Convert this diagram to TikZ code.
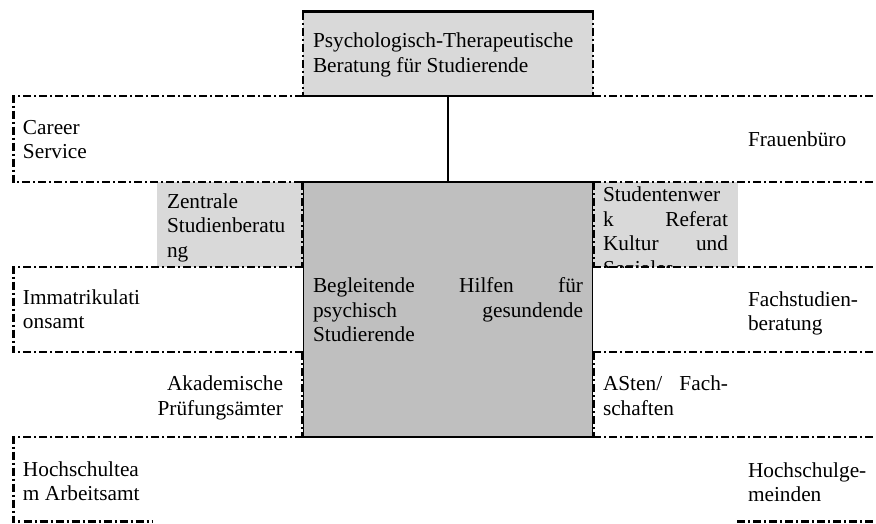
\documentclass[tikz,border=0pt]{standalone}
\usepackage{fontspec}
\setmainfont{Liberation Serif}
\definecolor{boxlight}{HTML}{D9D9D9}
\definecolor{boxdark}{HTML}{BFBFBF}
\tikzset{
  dashdot line/.style={line width=2.4pt, dash pattern=on 8pt off 3pt on 2pt off 3pt},
  solid edge/.style={line width=2.5pt},
  thin edge/.style={line width=1.5pt},
  lbl/.style={inner sep=0pt, outer sep=0pt, anchor=base west, font=\fontsize{21.3}{24.5}\selectfont, text=black},
  fillbox/.style={inner sep=0pt, outer sep=0pt, anchor=north west, draw=none},
}
\begin{document}
\begin{tikzpicture}[x=1pt,y=-1pt]
\clip (0,0) rectangle (876,523);
\fill[white] (0,0) rectangle (876,523);
% filled boxes
\node[fillbox, fill=boxlight, minimum width=290pt, minimum height=84.5pt] (psybox) at (303,11.5) {};
\node[fillbox, fill=boxlight, minimum width=146pt, minimum height=85pt] (zsbox) at (157,182) {};
\node[fillbox, fill=boxlight, minimum width=145pt, minimum height=85pt] (swbox) at (593,182) {};
\node[fillbox, fill=boxdark, minimum width=290pt, minimum height=255pt] (centerbox) at (303,182) {};
% texts
\node[lbl] (psytext) at (313,47.7) {\vtop{\hbox{Psychologisch-Therapeutische}\hbox{Beratung für Studierende}}};
\node[lbl] (career) at (23,134) {\vtop{\hbox{Career}\hbox{Service}}};
\node[lbl] (frauen) at (748,146) {Frauenbüro};
\node[lbl] (zentrale) at (167,208) {\vtop{\hbox{Zentrale}\hbox{Studienberatu}\hbox{ng}}};
\begin{scope}
  \clip (593,182) rectangle (738,267);
  \node[lbl] (studwerk) at (603,201.7) {\vtop{\hbox to 125pt{Studentenwer\hfill}\hbox to 125pt{k\hfill Referat}\hbox to 125pt{Kultur\hfill und}\hbox{Soziales}}};
\end{scope}
\node[lbl] (begleit) at (313,292.7) {\vtop{\hbox to 270pt{Begleitende\hfill Hilfen\hfill für}\hbox to 270pt{psychisch\hfill gesundende}\hbox{Studierende}}};
\node[lbl] (immat) at (23,304) {\vtop{\hbox{Immatrikulati}\hbox{onsamt}}};
\node[lbl] (fach) at (748,306) {\vtop{\hbox{Fachstudien-}\hbox{beratung}}};
\node[lbl, anchor=base east] (akad) at (283,390.7) {\vtop{\hbox to 130pt{\hfill Akademische}\hbox to 130pt{\hfill Prüfungsämter}}};
\node[lbl] (asten) at (603,390.7) {\vtop{\hbox to 125pt{ASten/\hfill Fach-}\hbox{schaften}}};
\node[lbl] (hteam) at (23,476) {\vtop{\hbox{Hochschultea}\hbox{m Arbeitsamt}}};
\node[lbl] (hgem) at (748,477) {\vtop{\hbox{Hochschulge-}\hbox{meinden}}};
% top box edges
\draw[solid edge] ([xshift=-1pt]psybox.north west) -- ([xshift=1pt]psybox.north east);
\draw[solid edge] ([xshift=-1pt]psybox.south west) -- ([xshift=1pt]psybox.south east);
\draw[dashdot line] (psybox.north west) -- (psybox.south west);
\draw[dashdot line] (psybox.north east) -- (psybox.south east);
% connector
\draw[line width=2.2pt] (psybox.south) -- (centerbox.north);
% row outlines (left parts)
\draw[dashdot line] (303,96) -- (13.5,96) -- (13.5,182) -- (303,182);
\draw[dashdot line] (302,182) -- (302,267);
\draw[dashdot line] (303,267) -- (13.5,267) -- (13.5,352) -- (303,352);
\draw[dashdot line] (302,352) -- (302,437);
\draw[dashdot line] (303,437) -- (13.5,437) -- (13.5,521.5) -- (153,521.5);
% row outlines (right parts)
\draw[dashdot line] (593,96) -- (876,96);
\draw[dashdot line] (593,182) -- (876,182);
\draw[dashdot line] (594,182) -- (594,267);
\draw[dashdot line] (593,267) -- (876,267);
\draw[dashdot line] (593,352) -- (876,352);
\draw[dashdot line] (594,352) -- (594,437);
\draw[dashdot line] (593,437) -- (876,437);
\draw[dashdot line] (737,521.5) -- (876,521.5);
% center box edges
\draw[thin edge] ([xshift=0.7pt]centerbox.north west) -- ([xshift=0.7pt]centerbox.south west);
\draw[thin edge] ([xshift=-0.7pt]centerbox.north east) -- ([xshift=-0.7pt]centerbox.south east);
\draw[solid edge] ([xshift=-1pt]centerbox.north west) -- ([xshift=1pt]centerbox.north east);
\draw[solid edge] ([xshift=-1pt]centerbox.south west) -- ([xshift=1pt]centerbox.south east);
\end{tikzpicture}
\end{document}
